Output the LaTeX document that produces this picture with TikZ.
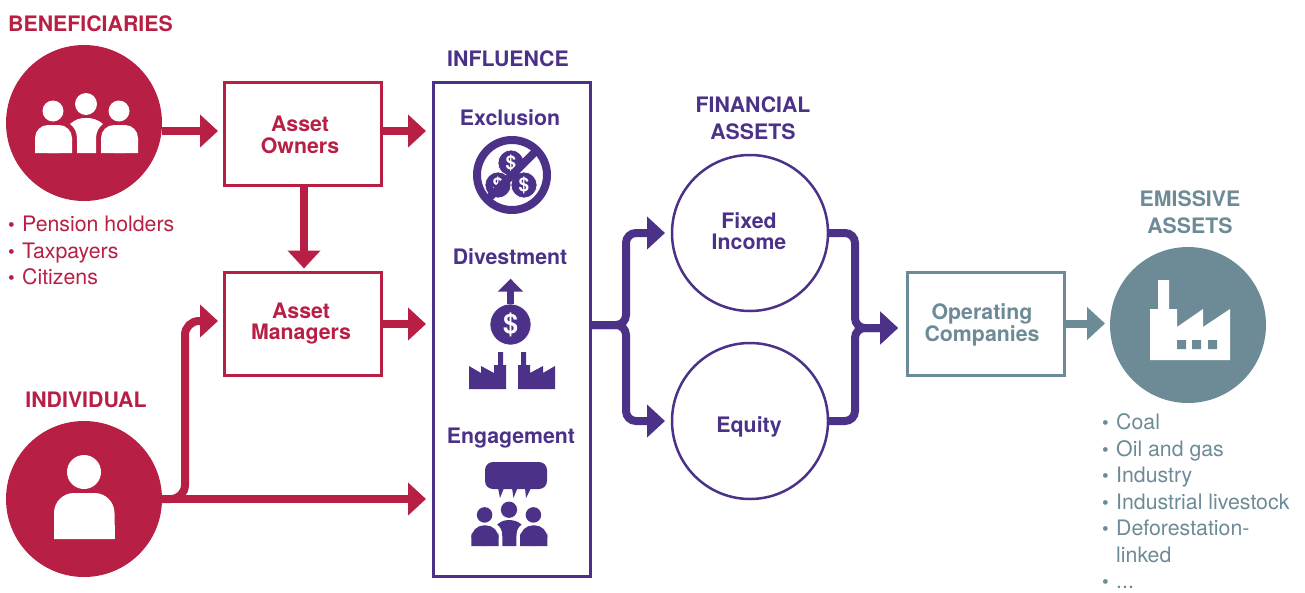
\documentclass[tikz,border=0pt]{standalone}
\usepackage{fontspec}
\setmainfont{TeX Gyre Heros}
\usetikzlibrary{arrows.meta}
\definecolor{crimson}{HTML}{B81F44}
\definecolor{plum}{HTML}{4B3188}
\definecolor{slate}{HTML}{6D8B96}
\newcommand{\itm}{\makebox[14pt][l]{\fontsize{19}{19}\selectfont•}}
\newcommand{\headfont}{\fontsize{21.3}{26.5}\selectfont\bfseries}
\newcommand{\boxfont}{\fontsize{21.3}{21.5}\selectfont\bfseries}
\newcommand{\listfont}{\fontsize{21.3}{26.5}\selectfont}
\newcommand{\coinfont}{\fontsize{19}{19}\selectfont\bfseries}

\tikzset{
  pics/people/.style={code={
    \fill[#1] (-33,-42) circle (10.5) (0,-49) circle (11) (33,-42) circle (10.5);
    \fill[#1,rounded corners=13] (-51,0) -- (-51,-28) -- (-14,-28) -- (-14,0) -- cycle;
    \fill[#1,rounded corners=13] (52,0) -- (52,-28) -- (15,-28) -- (15,0) -- cycle;
    \fill[#1] (-9,0) -- (-9,-13) .. controls (-9,-22) and (-12,-26) .. (-16,-29)
      .. controls (-10,-34) and (-6,-35) .. (0,-35)
      .. controls (6,-35) and (11,-34) .. (17,-29)
      .. controls (13,-26) and (10,-22) .. (10,-13) -- (10,0) -- cycle;
    \fill[#1] (-51,-14) rectangle (-14,0) (15,-14) rectangle (52,0);
  }},
  pics/plant/.style={code={
    \fill[plum] (0,-23) -- (12,-16) -- (12,-23) -- (25,-16) -- (25,-24) -- (29,-24)
      -- (29,-37) -- (34,-37) -- (34,-24) -- (37,-24) -- (37,0) -- (0,0) -- cycle;
  }}
}

\begin{document}
\begin{tikzpicture}[x=1pt,y=-1pt,
  disc/.style={circle,fill=#1,minimum size=156pt,inner sep=0pt,outer sep=0pt},
  ring/.style={circle,draw=plum,line width=2.5pt,minimum size=156pt,inner sep=0pt,outer sep=0pt},
  block/.style={draw=#1,line width=3pt,minimum width=157pt,minimum height=103pt,inner sep=0pt,outer sep=0pt},
  head/.style={text=#1,font=\headfont,align=center,inner sep=0pt},
  inner/.style={text=#1,font=\boxfont,align=center,inner sep=0pt},
  items/.style={text=#1,font=\listfont,align=left,inner sep=0pt,anchor=north west},
  coin/.style={circle,fill=plum,draw=white,line width=.6pt,minimum size=#1,inner sep=0pt,text=white,font=\coinfont},
  link/.style={draw,color=#1,line width=8pt,-{Triangle[length=18pt,width=32pt]}},
]
\useasboundingbox (0,0) rectangle (1305,592);

% discs, boxes
\node[disc=crimson] (ben) at (84,123) {};
\node[disc=crimson,below of=ben,node distance=376pt] (ind) {};
\node[block=crimson] (own) at (302.5,133.5) {};
\node[block=crimson,below of=own,node distance=190.5pt] (mgr) {};
\node[block=plum,minimum height=494pt] (inf) at (511.5,329) {};
\node[ring] (fix) at (750,233) {};
\node[ring,below of=fix,node distance=188pt] (eqt) {};
\node[block=slate] (ops) at (985.5,323.5) {};
\node[disc=slate] (emi) at (1188,325) {};

% headings
\node[head=crimson] (bentxt) at (90.5,23.5) {BENEFICIARIES};
\node[head=crimson] (indtxt) at (86,400) {INDIVIDUAL};
\node[head=plum] (inftxt) at (508,59) {INFLUENCE};
\node[head=plum] (fintxt) at (753,118) {FINANCIAL\\ASSETS};
\node[head=slate] (emitxt) at (1190,212) {EMISSIVE\\ASSETS};
\node[head=plum] (exctxt) at (510,117.5) {Exclusion};
\node[head=plum] (divtxt) at (510,257) {Divestment};
\node[head=plum] (engtxt) at (511,438.5) {Engagement};

% box texts
\node[inner=crimson] (owntxt) at (300,135) {Asset\\Owners};
\node[inner=crimson] (mgrtxt) at (301,323.5) {Asset\\Managers};
\node[inner=plum] (fixtxt) at (749,231) {Fixed\\Income};
\node[inner=plum] (eqttxt) at (749,426.5) {Equity};
\node[inner=slate] (opstxt) at (982,325) {Operating\\Companies};

% lists
\node[items=crimson] (benlist) at (8,216) {\itm Pension holders\\\itm Taxpayers\\\itm Citizens};
\node[items=slate] (emilist) at (1102,413.5) {\itm Coal\\\itm Oil and gas\\\itm Industry\\\itm Industrial livestock\\\itm Deforestation-\\\hspace*{14pt}linked\\\itm ...};

% joints
\coordinate (indup) at (185,499);
\coordinate (splitL) at (626,325);
\coordinate (joinR) at (855,328);
\coordinate (ownin) at ([yshift=2.5pt]own.west);
\coordinate (ownout) at ([yshift=2.5pt]own.east);
\coordinate (mgrin) at ([yshift=3pt]mgr.west);
\coordinate (ownfoot) at ([xshift=1.5pt]own.south);
\coordinate (mgrtop) at ([xshift=1.5pt]mgr.north);

% connectors
\path[every edge/.append style={link=crimson,shorten >=7pt}]
(ben.east |- ownin) edge[shorten >=6pt] (ownin)
(ind.east) edge (ind.east -| inf.west)
(ownout) edge (ownout -| inf.west)
(mgr.east) edge (mgr.east -| inf.west)
(ownfoot) edge[shorten >=4pt] (mgrtop)
;
\draw[link=crimson,shorten >=6pt,rounded corners=14pt] (ind.east) -- (indup) |- (mgrin);

\draw[link=plum,shorten >=7pt,rounded corners=10pt] (splitL -| inf.east) -- (splitL) |- (fix.west);
\draw[link=plum,shorten >=7pt,rounded corners=10pt] (splitL -| inf.east) -- (splitL) |- (eqt.west);
\draw[link=plum,shorten >=9pt,rounded corners=10pt] (fix.east) -| (joinR) -- (joinR -| ops.west);
\draw[link=plum,shorten >=9pt,rounded corners=10pt] (eqt.east) -| (joinR) -- (joinR -| ops.west);
\draw[link=slate,shorten >=5pt] (ops.east) -- (ops.east -| emi.west);

% beneficiaries, individual
\pic at (86,153) {people=white};
\fill[white] (84,472) circle (17);
\fill[white,rounded corners=20] (54,539) -- (54,493) -- (114.5,493) -- (114.5,539);
\fill[white] (54,525) rectangle (114.5,539);

% exclusion
\node[coin=26pt] (c1) at (511,163) {\$};
\node[coin=26pt] (c2) at (498,185) {\$};
\node[coin=26pt] (c3) at (524,185) {\$};
\draw[plum,line width=8pt] (512,175) circle (35);
\draw[plum,line width=8pt] (489,198) -- (535,152);

% divestment
\node[coin=41pt,font=\fontsize{27}{27}\selectfont\bfseries] (c4) at (510.5,324.5) {\$};
\draw[plum,line width=7.5pt,-{Triangle[length=13pt,width=25pt]}] (c4.north) -- ++(0,-25);
\pic at (469,389) {plant};
\pic[xscale=-1] at (555,389) {plant};

% engagement
\fill[plum,rounded corners=8] (485,462) rectangle (547,489);
\fill[plum] (498,488) -- (500,498) -- (504,488) -- cycle
  (512,488) -- (513.5,498) -- (517.5,488) -- cycle
  (525,488) -- (526,498) -- (531,488) -- cycle;
\pic[scale=.74] at (509,546) {people=plum};

% emissive
\fill[white] (1150,360) -- (1150,309) -- (1158,309) -- (1158,280) -- (1169,280) -- (1169,309)
  -- (1177,309) -- (1177,327) -- (1203,309) -- (1203,327) -- (1230,309) -- (1230,360) -- cycle;
\fill[slate] (1177,340) rectangle (1186,349) (1192,340) rectangle (1201,349) (1208,340) rectangle (1217,349);
\end{tikzpicture}
\end{document}
